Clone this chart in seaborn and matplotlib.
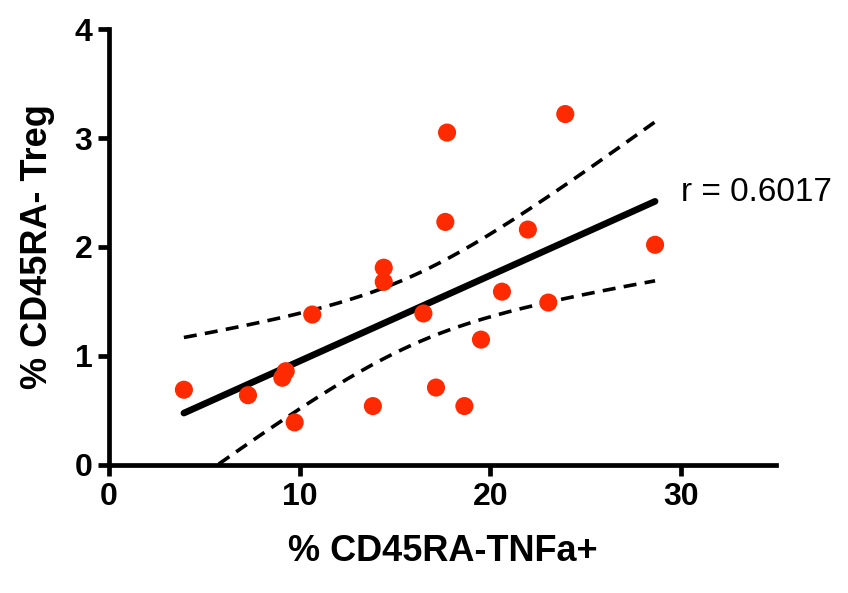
import numpy as np
import pandas as pd
import matplotlib
matplotlib.use("Agg")
import matplotlib.pyplot as plt
import seaborn as sns

# data
tnfa = [3.93, 7.29, 9.09, 9.27, 9.74, 10.66, 13.84, 14.41, 14.41, 16.49,
        17.15, 17.64, 17.73, 18.64, 19.51, 20.61, 21.97, 23.04, 23.93, 28.64]
treg = [0.69, 0.64, 0.80, 0.86, 0.39, 1.38, 0.54, 1.81, 1.68, 1.39,
        0.71, 2.23, 3.05, 0.54, 1.15, 1.59, 2.16, 1.49, 3.22, 2.02]
x_ticks = [0, 10, 20, 30]
y_ticks = [0, 1, 2, 3, 4]
r_label = "r = 0.6017"
x_label = "% CD45RA-TNFa+"
y_label = "% CD45RA- Treg"

sns.set_style("ticks")
plt.rcParams['font.family'] = ['Liberation Sans', 'DejaVu Sans']
plt.rcParams['text.color'] = 'black'
plt.rcParams['axes.labelcolor'] = 'black'
plt.rcParams['xtick.color'] = 'black'
plt.rcParams['ytick.color'] = 'black'
plt.rcParams['axes.edgecolor'] = 'black'

df = pd.DataFrame({"x": tnfa, "y": treg})

# linear regression with 95% confidence band
x = np.asarray(tnfa)
y = np.asarray(treg)
n = len(x)
slope, intercept = np.polyfit(x, y, 1)
xs = np.linspace(x.min(), x.max(), 200)
yfit = intercept + slope * xs
resid = y - (intercept + slope * x)
s = np.sqrt(np.sum(resid ** 2) / (n - 2))
tval = 2.101  # t(0.975, df=18)
se = s * np.sqrt(1.0 / n + (xs - x.mean()) ** 2 / np.sum((x - x.mean()) ** 2))
fit_df = pd.DataFrame({"x": xs, "fit": yfit, "lo": yfit - tval * se, "hi": yfit + tval * se})

fig = plt.figure(figsize=(8.48, 5.93), dpi=100)
ax = fig.add_axes([0.1285, 0.216, 0.787, 0.735])

sns.lineplot(data=fit_df, x="x", y="fit", ax=ax, color="black", lw=4.8,
             solid_capstyle="round", zorder=3)
for col in ["lo", "hi"]:
    sns.lineplot(data=fit_df, x="x", y=col, ax=ax, color="black", lw=2.6,
                 zorder=3)
for line in ax.lines[1:]:
    line.set_dashes((3.6, 2.3))
sns.scatterplot(data=df, x="x", y="y", ax=ax, color="#FF2A00", s=170,
                edgecolor="none", zorder=4, clip_on=False)

ax.set_xlim(0, 35)
ax.set_ylim(0, 4)
ax.set_xticks(x_ticks)
ax.set_yticks(y_ticks)
ax.set_xticklabels([str(t) for t in x_ticks], fontsize=23, fontweight="bold")
ax.set_yticklabels([str(t) for t in y_ticks], fontsize=23, fontweight="bold")
ax.tick_params(axis="both", direction="out", length=8, width=3.4, pad=4)
ax.set_xlabel(x_label, fontsize=26, fontweight="bold", labelpad=16)
ax.set_ylabel(y_label, fontsize=26, fontweight="bold", labelpad=14)
for side in ["left", "bottom"]:
    ax.spines[side].set_linewidth(3.4)
for side in ["top", "right"]:
    ax.spines[side].set_visible(False)

ax.text(30.0, 2.5, r_label, fontsize=24, va="center", ha="left")

fig.savefig("out.png", dpi=100)
